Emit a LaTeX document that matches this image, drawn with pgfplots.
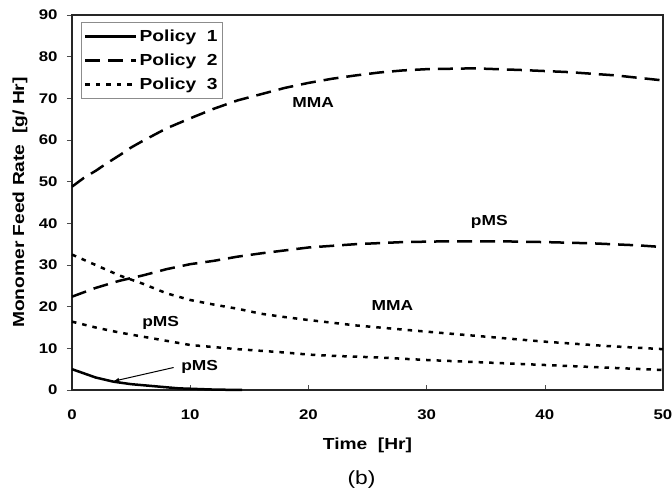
\documentclass[border=0pt]{standalone}
\usepackage{fontspec}
\setmainfont{Liberation Sans}[FakeStretch=1.2]
\usepackage{pgfplots}
\pgfplotsset{compat=1.18}

% Policy 2 feed rates
\newcommand{\ptwoMMA}{(0,48.8) (1,50.9) (2,52.6) (3,54.5) (4,56.3) (5,58.2) (6,59.8) (8,62.8) (10,65.2) (12,67.5) (14,69.5) (16,71) (18,72.5) (20,73.7) (22,74.7) (24,75.5) (26,76.2) (28,76.7) (30,77) (34,77.2) (38,76.8) (42,76.3) (46,75.5) (50,74.3)}
\newcommand{\ptwoPMS}{(0,22.4) (2,24.5) (4,26.2) (6,27.5) (8,29) (10,30.2) (12,31) (14,32) (16,32.8) (18,33.5) (20,34.2) (24,35) (28,35.5) (32,35.7) (36,35.7) (40,35.5) (44,35.2) (48,34.7) (50,34.3)}
% Policy 3 feed rates
\newcommand{\pthreeMMA}{(0,32.5) (2,30) (4,27.5) (6,25.5) (8,23.2) (10,21.6) (12,20.5) (14,19.5) (16,18.3) (18,17.5) (20,16.8) (24,15.5) (28,14.5) (30,14) (35,12.8) (40,11.6) (45,10.6) (50,9.8)}
\newcommand{\pthreePMS}{(0,16.4) (2,15) (4,13.8) (6,12.8) (8,11.8) (10,10.8) (14,9.8) (18,9) (20,8.5) (22,8.2) (26,7.8) (30,7.2) (35,6.6) (40,6) (45,5.4) (50,4.8)}
% Policy 1 feed rate (pMS)
\newcommand{\ponePMS}{(0,5) (1,4) (2,3) (3.5,2) (5,1.4) (7.4,0.8) (9,0.4) (10,0.3) (12,0.1) (14.4,0)}

\newcommand{\annfont}{\fontsize{14.5}{17}\selectfont\bfseries}

\begin{document}
\begin{tikzpicture}
\path[use as bounding box] (-72pt,-102pt) rectangle (600pt,390pt);
\begin{axis}[
  scale only axis,
  width=591pt, height=375pt,
  xmin=0, xmax=50, ymin=0, ymax=90,
  xtick={0,10,...,50}, ytick={0,10,...,90},
  xtick pos=bottom, ytick pos=left,
  xtick align=inside, ytick align=outside,
  major tick length=5pt,
  axis line style={line width=2pt, black!85},
  tick style={black!70, line width=0.6pt},
  /pgf/number format/assume math mode=true,
  ticklabel style={font=\fontsize{14}{16}\selectfont\bfseries},
  xticklabel style={yshift=-16pt},
  yticklabel style={xshift=-6pt},
  xlabel={Time\ \ [Hr]},
  ylabel={Monomer Feed Rate\ \ [g/ Hr]},
  label style={font=\fontsize{16}{18}\selectfont\bfseries},
  xlabel style={at={(axis description cs:0.5,0)}, anchor=center, yshift=-55pt},
  ylabel style={at={(axis description cs:0,0.5)}, anchor=center, yshift=52pt},
  legend style={at={(0.015,0.981)}, anchor=north west, draw=black!45,
    line width=0.6pt, font=\fontsize{16}{18}\selectfont\bfseries,
    row sep=7pt, inner xsep=3pt, inner ysep=5.5pt,
    cells={anchor=west}},
  legend cell align=left,
  legend image code/.code={\draw[#1] (0pt,0pt) -- (51pt,0pt);},
  clip=false,
]
\addplot[black, line width=2.5pt] coordinates {\ponePMS};
\addlegendentry{Policy\ \ 1}
\addplot[black, line width=2.5pt, dash pattern=on 15pt off 8pt] coordinates {\ptwoMMA};
\addlegendentry{Policy\ \ 2}
\addplot[black, line width=2.5pt, dash pattern=on 4.5pt off 6pt] coordinates {\pthreeMMA};
\addlegendentry{Policy\ \ 3}
\addplot[black, line width=2.5pt, dash pattern=on 15pt off 8pt, forget plot] coordinates {\ptwoPMS};
\addplot[black, line width=2.5pt, dash pattern=on 4.5pt off 6pt, forget plot] coordinates {\pthreePMS};

\node[font=\annfont] at (axis cs:20.4,68.9) {MMA};
\node[font=\annfont] at (axis cs:35.3,40.3) {pMS};
\node[font=\annfont] at (axis cs:27.1,20.2) {MMA};
\node[font=\annfont] at (axis cs:7.5,16.2) {pMS};
\node[font=\annfont] at (axis cs:10.8,5.6) {pMS};
\draw[-latex, line width=1pt] (axis cs:8.6,5.4) -- (axis cs:3.5,2.1);
\node[font=\fontsize{19}{22}\selectfont] at (axis cs:24.5,-21.5) {(b)};
\end{axis}
\end{tikzpicture}
\end{document}
